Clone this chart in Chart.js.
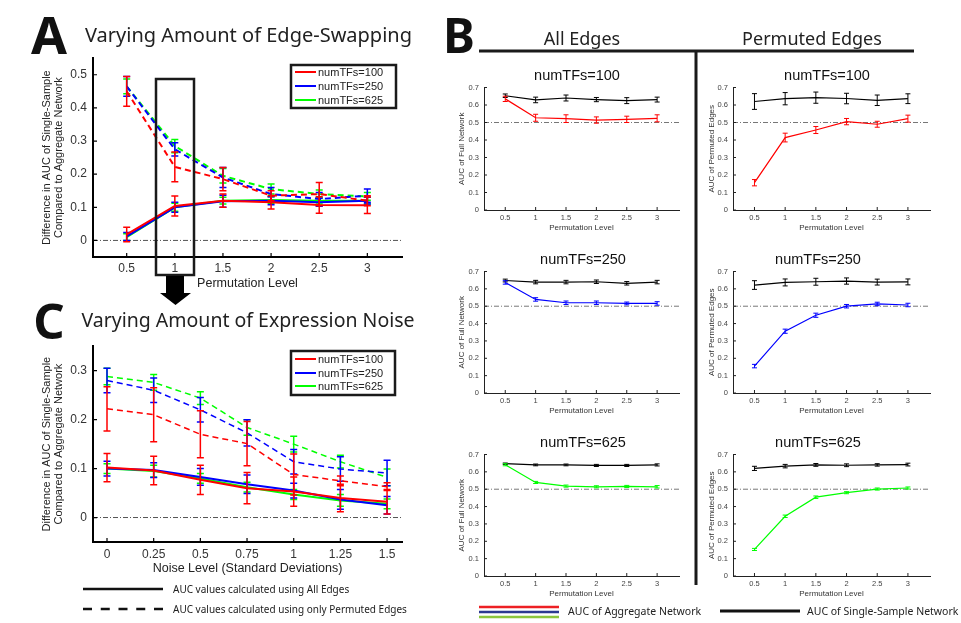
<!DOCTYPE html>
<html>
<head>
<meta charset="utf-8">
<script src="https://cdn.jsdelivr.net/npm/chart.js@4.4.0/dist/chart.umd.min.js"></script>
<style>
  body { margin: 0; background: #fff; }
  #fig { position: relative; width: 961px; height: 623px; overflow: hidden; background: #fff; }
  #fig canvas { position: absolute; }
  .txt { position: absolute; white-space: nowrap; }
</style>
</head>
<body>
<div id="fig"></div>
<script>
// ---- shared categories / ticks ----
const permLevels = [0.5, 1, 1.5, 2, 2.5, 3];
const noiseLevels = [0, 0.25, 0.5, 0.75, 1, 1.25, 1.5];
const tfNames = ["numTFs=100", "numTFs=250", "numTFs=625"];
const yTicksA = [0, 0.1, 0.2, 0.3, 0.4, 0.5];
const yTicksC = [0, 0.1, 0.2, 0.3];
const yTicksB = [0, 0.1, 0.2, 0.3, 0.4, 0.5, 0.6, 0.7];

// ---- panel A: difference in AUC vs permutation level ----
const aAll100 = [0.018, 0.104, 0.120, 0.115, 0.107, 0.106];
const aAll100Err = [0.022, 0.030, 0.020, 0.020, 0.025, 0.025];
const aAll250 = [0.012, 0.100, 0.118, 0.120, 0.115, 0.120];
const aAll250Err = [0.012, 0.015, 0.018, 0.012, 0.012, 0.010];
const aAll625 = [0.010, 0.100, 0.120, 0.122, 0.120, 0.120];
const aAll625Err = [0.010, 0.012, 0.010, 0.010, 0.010, 0.010];
const aPerm100 = [0.450, 0.222, 0.185, 0.135, 0.140, 0.120];
const aPerm100Err = [0.045, 0.045, 0.035, 0.015, 0.035, 0.015];
const aPerm250 = [0.465, 0.275, 0.190, 0.140, 0.125, 0.135];
const aPerm250Err = [0.030, 0.020, 0.030, 0.020, 0.020, 0.020];
const aPerm625 = [0.465, 0.285, 0.195, 0.155, 0.140, 0.133];
const aPerm625Err = [0.022, 0.020, 0.022, 0.015, 0.012, 0.012];

// ---- panel C: difference in AUC vs noise level ----
const cAll100 = [0.102, 0.096, 0.077, 0.060, 0.053, 0.040, 0.032];
const cAll100Err = [0.029, 0.029, 0.030, 0.032, 0.030, 0.028, 0.025];
const cAll250 = [0.100, 0.097, 0.083, 0.068, 0.055, 0.037, 0.025];
const cAll250Err = [0.015, 0.015, 0.017, 0.019, 0.015, 0.020, 0.018];
const cAll625 = [0.100, 0.095, 0.080, 0.062, 0.047, 0.035, 0.028];
const cAll625Err = [0.010, 0.012, 0.010, 0.010, 0.010, 0.012, 0.010];
const cPerm100 = [0.222, 0.210, 0.170, 0.151, 0.088, 0.075, 0.063];
const cPerm100Err = [0.045, 0.055, 0.048, 0.045, 0.042, 0.010, 0.008];
const cPerm250 = [0.280, 0.260, 0.220, 0.173, 0.114, 0.099, 0.091];
const cPerm250Err = [0.025, 0.025, 0.025, 0.027, 0.025, 0.025, 0.026];
const cPerm625 = [0.288, 0.276, 0.244, 0.184, 0.150, 0.114, 0.082];
const cPerm625Err = [0.017, 0.016, 0.013, 0.016, 0.016, 0.013, 0.017];

// ---- panel B: AUC of aggregate vs single-sample network ----
const full100Agg = [0.635, 0.527, 0.522, 0.514, 0.518, 0.524];
const full100AggErr = [0.015, 0.020, 0.022, 0.018, 0.018, 0.020];
const full100Single = [0.653, 0.629, 0.640, 0.631, 0.625, 0.631];
const full100SingleErr = [0.010, 0.016, 0.017, 0.012, 0.017, 0.014];
const perm100Agg = [0.156, 0.414, 0.457, 0.505, 0.490, 0.522];
const perm100AggErr = [0.018, 0.025, 0.020, 0.018, 0.017, 0.020];
const perm100Single = [0.620, 0.636, 0.642, 0.637, 0.627, 0.636];
const perm100SingleErr = [0.045, 0.035, 0.032, 0.030, 0.030, 0.028];

const full250Agg = [0.637, 0.539, 0.520, 0.520, 0.516, 0.516];
const full250AggErr = [0.010, 0.010, 0.010, 0.010, 0.008, 0.010];
const full250Single = [0.648, 0.639, 0.639, 0.641, 0.632, 0.639];
const full250SingleErr = [0.008, 0.010, 0.010, 0.010, 0.010, 0.010];
const perm250Agg = [0.155, 0.356, 0.448, 0.500, 0.513, 0.507];
const perm250AggErr = [0.010, 0.012, 0.012, 0.010, 0.010, 0.010];
const perm250Single = [0.622, 0.637, 0.641, 0.645, 0.639, 0.640];
const perm250SingleErr = [0.025, 0.020, 0.020, 0.018, 0.017, 0.017];

const full625Agg = [0.641, 0.539, 0.518, 0.514, 0.516, 0.514];
const full625AggErr = [0.006, 0.006, 0.006, 0.006, 0.006, 0.007];
const full625Single = [0.647, 0.640, 0.640, 0.637, 0.637, 0.640];
const full625SingleErr = [0.004, 0.005, 0.005, 0.006, 0.006, 0.006];
const perm625Agg = [0.153, 0.344, 0.454, 0.480, 0.501, 0.507];
const perm625AggErr = [0.006, 0.007, 0.007, 0.006, 0.006, 0.006];
const perm625Single = [0.620, 0.633, 0.640, 0.638, 0.640, 0.642];
const perm625SingleErr = [0.012, 0.010, 0.008, 0.008, 0.007, 0.008];

const RED = "#ff0000", BLUE = "#0000ff", GREEN = "#00ff00", BLACK = "#000000";
const DASH = [6, 4];

Chart.defaults.font.family = "'Liberation Sans', Arial, sans-serif";

// error bars drawn right after their own line, so the stacking follows dataset order
const errorBars = {
  id: "errorBars",
  afterDatasetDraw(chart, args) {
    const ds = chart.data.datasets[args.index];
    if (!ds.errors) return;
    const { ctx, scales: { x, y } } = chart;
    ctx.save();
    ctx.strokeStyle = ds.borderColor;
    ctx.lineWidth = ds.errWidth;
    ctx.setLineDash([]);
    ds.data.forEach((p, i) => {
      const px = x.getPixelForValue(p.x);
      const top = y.getPixelForValue(p.y + ds.errors[i]);
      const bot = y.getPixelForValue(p.y - ds.errors[i]);
      ctx.beginPath();
      ctx.moveTo(px, top); ctx.lineTo(px, bot);
      ctx.moveTo(px - ds.capHalf, top); ctx.lineTo(px + ds.capHalf, top);
      ctx.moveTo(px - ds.capHalf, bot); ctx.lineTo(px + ds.capHalf, bot);
      ctx.stroke();
    });
    ctx.restore();
  }
};

// dash-dot reference line and inward (MATLAB style) tick marks
const axisDecor = {
  id: "axisDecor",
  beforeDatasetsDraw(chart, args, opts) {
    const { ctx, chartArea: a, scales: { x, y } } = chart;
    ctx.save();
    const ry = y.getPixelForValue(opts.refValue);
    ctx.strokeStyle = opts.refColor;
    ctx.lineWidth = 1;
    ctx.setLineDash([5, 2, 1, 2]);
    ctx.beginPath(); ctx.moveTo(a.left, ry); ctx.lineTo(a.right, ry); ctx.stroke();
    ctx.setLineDash([]);
    ctx.strokeStyle = opts.tickColor;
    ctx.lineWidth = opts.tickWidth;
    ctx.beginPath();
    x.ticks.forEach(t => {
      const px = x.getPixelForValue(t.value);
      ctx.moveTo(px, a.bottom); ctx.lineTo(px, a.bottom - opts.tickLen);
    });
    y.ticks.forEach(t => {
      const py = y.getPixelForValue(t.value);
      ctx.moveTo(a.left, py); ctx.lineTo(a.left + opts.tickLen, py);
    });
    ctx.stroke();
    ctx.restore();
  }
};
Chart.register(errorBars, axisDecor);

const fig = document.getElementById("fig");

function series(xs, ys, errs, color, dash, width, errWidth, capHalf) {
  return {
    data: xs.map((x, i) => ({ x: x, y: ys[i] })),
    errors: errs,
    borderColor: color,
    borderWidth: width,
    borderDash: dash,
    errWidth: errWidth,
    capHalf: capHalf,
    pointRadius: 0,
    tension: 0,
    fill: false
  };
}

function axisOptions(a, fit) {
  return {
    type: "linear",
    min: a.min,
    max: a.max,
    grid: { display: false, drawTicks: false },
    border: { display: true, color: a.axisColor, width: a.axisWidth },
    ticks: {
      autoSkip: false, maxRotation: 0, padding: a.tickPad,
      color: a.tickColor, font: { size: a.tickSize },
      callback: v => String(v)
    },
    title: {
      display: true, text: a.title, color: a.titleColor,
      font: { size: a.titleSize, lineHeight: a.titleLH || 1.2 },
      padding: { top: a.titlePad, bottom: a.titlePad }
    },
    afterBuildTicks: s => { s.ticks = a.ticks.map(v => ({ value: v })); },
    afterFit: fit
  };
}

function drawPanel(frame, xCfg, yCfg, datasets, decor) {
  const c = document.createElement("canvas");
  c.width = frame.box.w;
  c.height = frame.box.h;
  c.style.left = frame.box.x + "px";
  c.style.top = frame.box.y + "px";
  c.style.width = frame.box.w + "px";
  c.style.height = frame.box.h + "px";
  fig.appendChild(c);
  const yWidth = frame.plot.x - frame.box.x;
  const xHeight = frame.box.y + frame.box.h - (frame.plot.y + frame.plot.h);
  const padTop = frame.plot.y - frame.box.y;
  const padRight = frame.box.x + frame.box.w - (frame.plot.x + frame.plot.w);
  return new Chart(c.getContext("2d"), {
    type: "line",
    data: { datasets: datasets },
    options: {
      responsive: false,
      animation: false,
      events: [],
      layout: { padding: { top: padTop, right: padRight, left: 0, bottom: 0 } },
      plugins: { legend: { display: false }, tooltip: { enabled: false }, axisDecor: decor },
      scales: {
        x: axisOptions(xCfg, s => { s.height = xHeight; }),
        y: axisOptions(yCfg, s => { s.width = yWidth; })
      }
    }
  });
}

function addText(text, x, y, font, align, color) {
  const el = document.createElement("div");
  el.className = "txt";
  el.textContent = text;
  el.style.font = font;
  el.style.lineHeight = "1";
  el.style.left = x + "px";
  el.style.top = y + "px";
  el.style.color = color || "#1a1a1a";
  el.style.transform = align === "left" ? "translate(0,-50%)" : "translate(-50%,-50%)";
  fig.appendChild(el);
}

// ---------- panel A ----------
const bigAxis = { axisColor: "#000", axisWidth: 2, tickColor: "#333", tickSize: 12, titleColor: "#222" };
drawPanel(
  { box: { x: 35, y: 45, w: 372, h: 252 }, plot: { x: 93, y: 58, w: 309, h: 199 } },
  Object.assign({}, bigAxis, { min: 0.15, max: 3.36, ticks: permLevels, tickPad: 4, title: "Permutation Level", titleSize: 12.5, titlePad: 5.5 }),
  Object.assign({}, bigAxis, { min: -0.05, max: 0.55, ticks: yTicksA, tickPad: 6,
    title: ["Difference in AUC of Single-Sample", "Compared to Aggregate Network"], titleSize: 11, titleLH: 1.1, titlePad: 5.8 }),
  [
    series(permLevels, aAll100, aAll100Err, RED, [], 2, 1.5, 3.5),
    series(permLevels, aPerm100, aPerm100Err, RED, DASH, 2, 1.5, 3.5),
    series(permLevels, aAll250, aAll250Err, BLUE, [], 2, 1.5, 3.5),
    series(permLevels, aPerm250, aPerm250Err, BLUE, DASH, 2, 1.5, 3.5),
    series(permLevels, aAll625, aAll625Err, GREEN, [], 2, 1.5, 3.5),
    series(permLevels, aPerm625, aPerm625Err, GREEN, DASH, 2, 1.5, 3.5)
  ],
  { refValue: 0, refColor: "#555", tickColor: "#000", tickWidth: 1.2, tickLen: 4 }
);

// ---------- panel C ----------
drawPanel(
  { box: { x: 35, y: 333, w: 372, h: 249 }, plot: { x: 93, y: 343, w: 309, h: 199 } },
  Object.assign({}, bigAxis, { min: -0.075, max: 1.58, ticks: noiseLevels, tickPad: 5.5, title: "Noise Level (Standard Deviations)", titleSize: 12.5, titlePad: 5.5 }),
  Object.assign({}, bigAxis, { min: -0.05, max: 0.35, ticks: yTicksC, tickPad: 6,
    title: ["Difference in AUC of Single-Sample", "Compared to Aggregate Network"], titleSize: 11, titleLH: 1.1, titlePad: 5.8 }),
  [
    series(noiseLevels, cAll100, cAll100Err, RED, [], 2, 1.5, 3.5),
    series(noiseLevels, cPerm100, cPerm100Err, RED, DASH, 1.5, 1.5, 3.5),
    series(noiseLevels, cAll250, cAll250Err, BLUE, [], 2, 1.5, 3.5),
    series(noiseLevels, cPerm250, cPerm250Err, BLUE, DASH, 1.5, 1.5, 3.5),
    series(noiseLevels, cAll625, cAll625Err, GREEN, [], 2, 1.5, 3.5),
    series(noiseLevels, cPerm625, cPerm625Err, GREEN, DASH, 1.5, 1.5, 3.5)
  ],
  { refValue: 0, refColor: "#555", tickColor: "#000", tickWidth: 1.2, tickLen: 4 }
);

// ---------- panel B (six small plots) ----------
const bPanels = [
  { frame: { box: { x: 450, y: 78, w: 235, h: 156 }, plot: { x: 484, y: 86, w: 195, h: 124 } }, name: tfNames[0], tx: 577, ty: 75,
    yTitle: "AUC of Full Network", yPad: 7.2, agg: full100Agg, aggErr: full100AggErr, single: full100Single, singleErr: full100SingleErr, color: RED },
  { frame: { box: { x: 702, y: 78, w: 234, h: 156 }, plot: { x: 733, y: 86, w: 197, h: 124 } }, name: tfNames[0], tx: 827, ty: 75,
    yTitle: "AUC of Permuted Edges", yPad: 5.2, agg: perm100Agg, aggErr: perm100AggErr, single: perm100Single, singleErr: perm100SingleErr, color: RED },
  { frame: { box: { x: 450, y: 262, w: 235, h: 155 }, plot: { x: 484, y: 270, w: 195, h: 123 } }, name: tfNames[1], tx: 583, ty: 259,
    yTitle: "AUC of Full Network", yPad: 7.2, agg: full250Agg, aggErr: full250AggErr, single: full250Single, singleErr: full250SingleErr, color: BLUE },
  { frame: { box: { x: 702, y: 262, w: 234, h: 155 }, plot: { x: 733, y: 270, w: 197, h: 123 } }, name: tfNames[1], tx: 818, ty: 259,
    yTitle: "AUC of Permuted Edges", yPad: 5.2, agg: perm250Agg, aggErr: perm250AggErr, single: perm250Single, singleErr: perm250SingleErr, color: BLUE },
  { frame: { box: { x: 450, y: 445, w: 235, h: 155 }, plot: { x: 484, y: 453, w: 195, h: 123 } }, name: tfNames[2], tx: 583, ty: 442,
    yTitle: "AUC of Full Network", yPad: 7.2, agg: full625Agg, aggErr: full625AggErr, single: full625Single, singleErr: full625SingleErr, color: GREEN },
  { frame: { box: { x: 702, y: 445, w: 234, h: 155 }, plot: { x: 733, y: 453, w: 197, h: 123 } }, name: tfNames[2], tx: 818, ty: 442,
    yTitle: "AUC of Permuted Edges", yPad: 5.2, agg: perm625Agg, aggErr: perm625AggErr, single: perm625Single, singleErr: perm625SingleErr, color: GREEN }
];

const smallAxis = { axisColor: "#222", axisWidth: 1, tickColor: "#444", tickSize: 7.5, titleColor: "#333", titleSize: 8 };
bPanels.forEach(p => {
  drawPanel(
    p.frame,
    Object.assign({}, smallAxis, { min: 0.15, max: 3.36, ticks: permLevels, tickPad: 3, title: "Permutation Level", titlePad: 1.9 }),
    Object.assign({}, smallAxis, { min: 0, max: 0.7, ticks: yTicksB, tickPad: 5, title: p.yTitle, titlePad: p.yPad }),
    [
      series(permLevels, p.agg, p.aggErr, p.color, [], 1.2, 1, 2.5),
      series(permLevels, p.single, p.singleErr, BLACK, [], 1.2, 1, 2.5)
    ],
    { refValue: 0.5, refColor: "#777", tickColor: "#222", tickWidth: 1, tickLen: 3 }
  );
  addText(p.name, p.tx, p.ty, "14.5px 'Liberation Sans', Arial, sans-serif", "center", "#111");
});

// ---------- overlay graphics ----------
const NS = "http://www.w3.org/2000/svg";
const svg = document.createElementNS(NS, "svg");
svg.setAttribute("width", 961);
svg.setAttribute("height", 623);
svg.style.position = "absolute";
svg.style.left = "0px";
svg.style.top = "0px";
fig.appendChild(svg);
function svgEl(tag, attrs) {
  const el = document.createElementNS(NS, tag);
  Object.keys(attrs).forEach(k => el.setAttribute(k, attrs[k]));
  svg.appendChild(el);
  return el;
}

// highlight box around permutation level 1 and arrow down to panel C
svgEl("rect", { x: 156, y: 79, width: 38, height: 196, fill: "none", stroke: "#1a1a1a", "stroke-width": 2.5 });
svgEl("polygon", { points: "166,276 184,276 184,293 191,293 175.5,305 160,293 166,293", fill: "#000" });

// legend boxes inside A and C
const lineColors = [RED, BLUE, GREEN];
function legendBox(x, y, w, h, rows) {
  svgEl("rect", { x: x, y: y, width: w, height: h, fill: "#fff", stroke: "#1a1a1a", "stroke-width": 2.5 });
  rows.forEach((ry, i) => {
    svgEl("line", { x1: x + 4, y1: ry, x2: x + 25, y2: ry, stroke: lineColors[i], "stroke-width": 2 });
    addText(tfNames[i], x + 27, ry, "11px 'Liberation Sans', Arial, sans-serif", "left", "#222");
  });
}
legendBox(291, 65, 105, 43, [72, 86, 100]);
legendBox(291, 351, 104, 44, [359, 373, 386]);

// panel B frame lines
svgEl("line", { x1: 479, y1: 51, x2: 914, y2: 51, stroke: "#1a1a1a", "stroke-width": 3 });
svgEl("line", { x1: 696, y1: 51, x2: 696, y2: 585, stroke: "#1a1a1a", "stroke-width": 3 });

// bottom legend of C
svgEl("line", { x1: 83, y1: 589, x2: 163, y2: 589, stroke: "#111", "stroke-width": 2.5 });
svgEl("line", { x1: 83, y1: 609, x2: 163, y2: 609, stroke: "#111", "stroke-width": 2.5, "stroke-dasharray": "9,8.75" });
addText("AUC values calculated using All Edges", 173, 589, "10px 'Noto Sans', sans-serif", "left", "#222");
addText("AUC values calculated using only Permuted Edges", 173, 609, "10px 'Noto Sans', sans-serif", "left", "#222");

// bottom legend of B
svgEl("line", { x1: 479, y1: 607, x2: 559, y2: 607, stroke: "#ed2024", "stroke-width": 2.5 });
svgEl("line", { x1: 479, y1: 612, x2: 559, y2: 612, stroke: "#2b3990", "stroke-width": 2.5 });
svgEl("line", { x1: 479, y1: 617, x2: 559, y2: 617, stroke: "#8cc63e", "stroke-width": 2.5 });
addText("AUC of Aggregate Network", 568, 611, "10.5px 'Noto Sans', sans-serif", "left", "#222");
svgEl("line", { x1: 720, y1: 611, x2: 800, y2: 611, stroke: "#111", "stroke-width": 3 });
addText("AUC of Single-Sample Network", 807, 611, "10.5px 'Noto Sans', sans-serif", "left", "#222");

// panel letters and headings
addText("A", 49, 34, "bold 52px 'Noto Sans', sans-serif", "center", "#111");
addText("B", 459, 35, "bold 48px 'Noto Sans', sans-serif", "center", "#111");
addText("C", 49, 320, "bold 49px 'Noto Sans', sans-serif", "center", "#111");
addText("Varying Amount of Edge-Swapping", 248.5, 35, "20px 'Noto Sans', sans-serif", "center", "#222");
addText("Varying Amount of Expression Noise", 248, 319.5, "19.5px 'Noto Sans', sans-serif", "center", "#222");
addText("All Edges", 582, 37.5, "18px 'Noto Sans', sans-serif", "center", "#222");
addText("Permuted Edges", 812, 37.5, "18px 'Noto Sans', sans-serif", "center", "#222");
</script>
</body>
</html>
